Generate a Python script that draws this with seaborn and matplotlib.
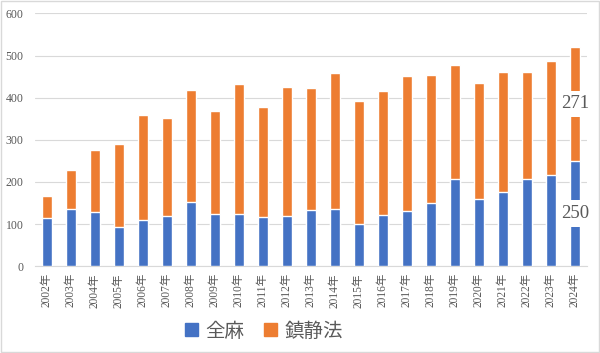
import matplotlib
matplotlib.use("Agg")
import matplotlib.pyplot as plt
import seaborn as sns
import pandas as pd
from matplotlib.patches import Patch, Rectangle

years = [f"{y}年" for y in range(2002, 2025)]
zenma = [114, 135, 129, 92, 109, 119, 153, 124, 125, 117, 120, 133, 136, 100, 121, 130, 150, 208, 159, 175, 207, 217, 250]
chinsei = [53, 94, 147, 199, 251, 233, 265, 245, 307, 260, 305, 289, 322, 293, 296, 322, 304, 269, 276, 286, 254, 270, 271]
series_names = ["全麻", "鎮静法"]

BLUE = "#4472C4"
ORANGE = "#ED7D31"
GRAY = "#595959"

df = pd.DataFrame({"year": years, "zenma": zenma, "chinsei": chinsei})
df["total"] = df["zenma"] + df["chinsei"]

sns.set_style("white")
plt.rcParams["font.family"] = ["Liberation Serif", "Noto Sans CJK JP", "DejaVu Sans"]

fig = plt.figure(figsize=(6.0, 3.53), dpi=100)
ax = fig.add_axes([0.058, 0.246, 0.92, 0.716])

sns.barplot(data=df, x="year", y="total", color=ORANGE, width=0.4, saturation=1, ax=ax, zorder=2)
sns.barplot(data=df, x="year", y="zenma", color=BLUE, width=0.4, saturation=1, ax=ax, zorder=3)

ax.set_ylim(0, 600)
ax.set_yticks(range(0, 601, 100))
ax.set_xlim(-0.5, len(years) - 0.5)
ax.yaxis.grid(True, color="#d9d9d9", linewidth=0.8, zorder=0)
ax.set_axisbelow(True)
for s in ["top", "right", "left"]:
    ax.spines[s].set_visible(False)
ax.spines["bottom"].set_color("#d9d9d9")
ax.spines["bottom"].set_linewidth(0.8)
ax.set_xlabel("")
ax.set_ylabel("")
ax.tick_params(axis="both", length=0, colors=GRAY)
ax.tick_params(axis="y", labelsize=8.5, pad=8)
ax.tick_params(axis="x", labelsize=8.3, pad=5)
for lab in ax.get_xticklabels():
    lab.set_rotation(90)
    lab.set_va("top")

# data labels on last bar
i = len(years) - 1
bbox = dict(boxstyle="square,pad=0.25", facecolor="white", edgecolor="none")
ax.text(i + 0.02, zenma[i] / 2, str(zenma[i]), ha="center", va="center", fontsize=13.5,
        color=GRAY, bbox=bbox, zorder=5)
ax.text(i + 0.02, zenma[i] + chinsei[i] / 2, str(chinsei[i]), ha="center", va="center", fontsize=13.5,
        color=GRAY, bbox=bbox, zorder=5)

handles = [Patch(facecolor=BLUE, edgecolor=BLUE), Patch(facecolor=ORANGE, edgecolor=ORANGE)]
leg = fig.legend(handles, series_names, loc="center", bbox_to_anchor=(0.44, 0.062), ncol=2,
                 frameon=False, handlelength=0.65, handleheight=0.65,
                 handletextpad=0.4, columnspacing=1.0,
                 prop={"family": ["Noto Sans CJK JP"], "size": 14})
for t in leg.get_texts():
    t.set_color(GRAY)

fig.patches.append(Rectangle((0.002, 0.003), 0.996, 0.994, transform=fig.transFigure,
                             fill=False, edgecolor="#d9d9d9", linewidth=1))

fig.savefig("out.png", dpi=100)
